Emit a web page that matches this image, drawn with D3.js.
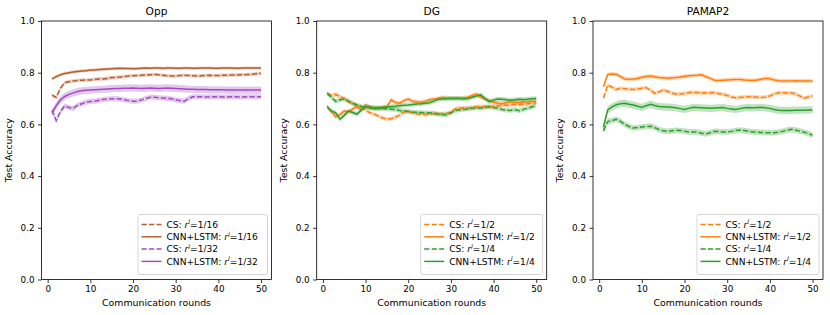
<!DOCTYPE html>
<html><head><meta charset="utf-8">
<script src="https://cdn.jsdelivr.net/npm/d3@7"></script>
<style>
body{margin:0;background:#fff;}
svg{font-family:"DejaVu Sans",sans-serif;}
</style></head>
<body><svg id="chart" width="830" height="315"></svg>
<script>
const rounds = d3.range(1, 51);
const panelTitles = ["Opp", "DG", "PAMAP2"];
const xTicks = [0, 10, 20, 30, 40, 50];
const yTicks = [0.0, 0.2, 0.4, 0.6, 0.8, 1.0];

// Opp
const oppCS16 = [0.713,0.704,0.740,0.762,0.765,0.768,0.770,0.771,0.772,0.772,0.774,0.776,0.776,0.778,0.781,0.782,0.783,0.785,0.787,0.788,0.789,0.790,0.791,0.792,0.793,0.792,0.790,0.788,0.787,0.787,0.789,0.790,0.789,0.788,0.787,0.788,0.789,0.790,0.789,0.789,0.790,0.790,0.791,0.791,0.792,0.792,0.793,0.794,0.796,0.798];
const oppNN16 = [0.776,0.785,0.792,0.797,0.800,0.803,0.805,0.807,0.808,0.810,0.810,0.812,0.813,0.814,0.815,0.816,0.817,0.816,0.816,0.815,0.816,0.817,0.818,0.817,0.818,0.818,0.817,0.818,0.818,0.817,0.817,0.818,0.818,0.817,0.817,0.818,0.818,0.818,0.817,0.817,0.818,0.818,0.818,0.817,0.817,0.818,0.818,0.818,0.818,0.818];
const oppCS32 = [0.655,0.615,0.650,0.672,0.665,0.662,0.674,0.680,0.686,0.689,0.690,0.693,0.696,0.698,0.699,0.700,0.698,0.695,0.692,0.690,0.690,0.695,0.700,0.705,0.705,0.703,0.702,0.701,0.699,0.695,0.692,0.690,0.700,0.707,0.707,0.707,0.706,0.706,0.707,0.707,0.706,0.706,0.707,0.707,0.706,0.706,0.707,0.707,0.707,0.707];
const oppNN32 = [0.645,0.672,0.695,0.708,0.716,0.722,0.727,0.730,0.732,0.733,0.734,0.735,0.736,0.737,0.738,0.739,0.739,0.740,0.740,0.741,0.740,0.739,0.740,0.741,0.740,0.739,0.740,0.741,0.740,0.739,0.738,0.737,0.736,0.736,0.735,0.735,0.735,0.734,0.734,0.734,0.734,0.733,0.733,0.733,0.733,0.733,0.733,0.733,0.733,0.733];
// DG
const dgCS2 = [0.720,0.712,0.716,0.708,0.700,0.688,0.680,0.672,0.668,0.656,0.645,0.640,0.632,0.625,0.620,0.622,0.628,0.636,0.648,0.650,0.645,0.641,0.640,0.638,0.640,0.642,0.640,0.641,0.643,0.645,0.660,0.663,0.664,0.663,0.665,0.668,0.668,0.669,0.667,0.670,0.672,0.675,0.674,0.676,0.678,0.676,0.678,0.680,0.682,0.683];
const dgNN2 = [0.668,0.648,0.630,0.638,0.652,0.648,0.660,0.669,0.656,0.675,0.668,0.663,0.662,0.665,0.669,0.695,0.685,0.682,0.692,0.698,0.690,0.688,0.686,0.690,0.695,0.698,0.700,0.705,0.703,0.702,0.700,0.701,0.702,0.705,0.712,0.717,0.705,0.698,0.692,0.686,0.682,0.680,0.684,0.688,0.686,0.685,0.687,0.688,0.689,0.690];
const dgCS4 = [0.720,0.705,0.689,0.695,0.698,0.690,0.682,0.675,0.669,0.668,0.666,0.664,0.663,0.662,0.660,0.659,0.657,0.654,0.652,0.650,0.648,0.647,0.646,0.645,0.645,0.643,0.640,0.638,0.637,0.645,0.654,0.656,0.658,0.660,0.662,0.664,0.663,0.666,0.669,0.665,0.662,0.658,0.655,0.654,0.657,0.653,0.658,0.663,0.668,0.673];
const dgNN4 = [0.668,0.652,0.645,0.620,0.635,0.652,0.646,0.640,0.655,0.669,0.664,0.662,0.663,0.665,0.667,0.669,0.670,0.672,0.674,0.675,0.677,0.679,0.680,0.682,0.684,0.690,0.697,0.698,0.699,0.700,0.701,0.700,0.699,0.700,0.705,0.710,0.714,0.700,0.688,0.694,0.698,0.697,0.695,0.693,0.695,0.697,0.696,0.697,0.699,0.700];
// PAMAP2
const paCS2 = [0.701,0.752,0.744,0.735,0.740,0.738,0.736,0.735,0.737,0.740,0.742,0.733,0.720,0.726,0.733,0.728,0.722,0.717,0.718,0.720,0.723,0.724,0.723,0.722,0.722,0.722,0.723,0.719,0.717,0.712,0.706,0.703,0.704,0.706,0.707,0.707,0.705,0.704,0.706,0.710,0.718,0.722,0.722,0.722,0.722,0.718,0.710,0.701,0.706,0.710];
const paNN2 = [0.746,0.793,0.795,0.794,0.785,0.776,0.775,0.776,0.778,0.782,0.785,0.787,0.784,0.781,0.780,0.779,0.780,0.781,0.783,0.786,0.788,0.789,0.790,0.792,0.785,0.778,0.771,0.770,0.771,0.772,0.773,0.774,0.774,0.772,0.771,0.770,0.772,0.775,0.778,0.777,0.772,0.769,0.768,0.768,0.768,0.769,0.768,0.768,0.768,0.768];
const paCS4 = [0.575,0.611,0.615,0.620,0.612,0.600,0.592,0.586,0.588,0.590,0.592,0.593,0.588,0.580,0.575,0.573,0.575,0.577,0.576,0.574,0.571,0.571,0.570,0.566,0.563,0.568,0.573,0.572,0.571,0.571,0.573,0.576,0.578,0.576,0.573,0.571,0.570,0.569,0.568,0.568,0.568,0.570,0.573,0.578,0.581,0.578,0.574,0.570,0.565,0.558];
const paNN4 = [0.590,0.656,0.668,0.676,0.680,0.682,0.678,0.675,0.670,0.666,0.672,0.678,0.673,0.669,0.668,0.667,0.666,0.664,0.661,0.658,0.662,0.666,0.665,0.664,0.663,0.662,0.663,0.664,0.665,0.662,0.660,0.658,0.661,0.664,0.665,0.664,0.665,0.666,0.664,0.662,0.658,0.655,0.654,0.654,0.654,0.655,0.655,0.655,0.656,0.656];

// std (band half-width) per series, same order as series lists
const oppStd = [0.007, 0.006, 0.010, 0.014];
const dgStd = [0.008, 0.008, 0.009, 0.009];
const paStd = [0.008, 0.008, 0.011, 0.014];

const oppLabels = [["CS: ","=1/16"],["CNN+LSTM: ","=1/16"],["CS: ","=1/32"],["CNN+LSTM: ","=1/32"]];
const otherLabels = [["CS: ","=1/2"],["CNN+LSTM: ","=1/2"],["CS: ","=1/4"],["CNN+LSTM: ","=1/4"]];

const brown = "#bb5c2c", purple = "#a24cc0", orange = "#ff7f0e", green = "#2ca02c";

const panels = [
  {title: panelTitles[0], series: [oppCS16, oppNN16, oppCS32, oppNN32], std: oppStd, colors: [brown, brown, purple, purple], labels: oppLabels, left: 41.5, legendW: 129.5},
  {title: panelTitles[1], series: [dgCS2, dgNN2, dgCS4, dgNN4], std: dgStd, colors: [orange, orange, green, green], labels: otherLabels, left: 316.7, legendW: 122},
  {title: panelTitles[2], series: [paCS2, paNN2, paCS4, paNN4], std: paStd, colors: [orange, orange, green, green], labels: otherLabels, left: 593, legendW: 122}
];
const dashed = [true, false, true, false];

const svg = d3.select("#chart");
const W = 230, plotTop = 21, plotBottom = 279.5;
const tickFs = 8.8, labelFs = 9.4, legFs = 9.1, titleFs = 10.6;

panels.forEach(p => {
  const x = d3.scaleLinear().domain([-1.45, 52.45]).range([p.left, p.left + W]);
  const y = d3.scaleLinear().domain([0, 1]).range([plotBottom, plotTop]);
  const g = svg.append("g");

  // bands
  p.series.forEach((s, i) => {
    const area = d3.area().x((d, j) => x(rounds[j])).y0(d => y(d - p.std[i])).y1(d => y(d + p.std[i]));
    g.append("path").attr("d", area(s)).attr("fill", p.colors[i]).attr("fill-opacity", 0.3).attr("stroke", "none");
  });
  // lines
  p.series.forEach((s, i) => {
    const line = d3.line().x((d, j) => x(rounds[j])).y(d => y(d));
    g.append("path").attr("d", line(s)).attr("fill", "none").attr("stroke", p.colors[i])
      .attr("stroke-width", 1.5).attr("stroke-dasharray", dashed[i] ? "5.2,2.3" : null);
  });

  // axes
  const xa = g.append("g").attr("transform", `translate(0,${plotBottom})`)
    .call(d3.axisBottom(x).tickValues(xTicks).tickSize(3.5).tickPadding(3).tickFormat(d3.format("d")));
  const ya = g.append("g").attr("transform", `translate(${p.left},0)`)
    .call(d3.axisLeft(y).tickValues(yTicks).tickSize(3.5).tickPadding(3.5).tickFormat(d3.format(".1f")));
  [xa, ya].forEach(a => {
    a.select(".domain").remove();
    a.selectAll("line").attr("stroke", "#000").attr("stroke-width", 0.8);
    a.selectAll("text").attr("font-size", tickFs).attr("fill", "#000").attr("font-family", "DejaVu Sans");
  });
  g.append("rect").attr("x", p.left).attr("y", plotTop).attr("width", W).attr("height", plotBottom - plotTop)
    .attr("fill", "none").attr("stroke", "#000").attr("stroke-width", 0.8);

  g.append("text").attr("x", p.left + W / 2).attr("y", 15).attr("text-anchor", "middle")
    .attr("font-size", titleFs).text(p.title);
  g.append("text").attr("x", p.left + W / 2).attr("y", 305.5).attr("text-anchor", "middle")
    .attr("font-size", labelFs).text("Communication rounds");
  g.append("text").attr("transform", `translate(${p.left - 30},${(plotTop + plotBottom) / 2}) rotate(-90)`)
    .attr("text-anchor", "middle").attr("font-size", labelFs).text("Test Accuracy");

  // legend
  const lw = p.legendW, lh = 60;
  const lx = p.left + W - 4 - lw, ly = plotBottom - 5 - lh;
  const lg = g.append("g");
  lg.append("rect").attr("x", lx).attr("y", ly).attr("width", lw).attr("height", lh).attr("rx", 2)
    .attr("fill", "#fff").attr("fill-opacity", 0.85).attr("stroke", "#ccc").attr("stroke-width", 0.8);
  p.labels.forEach((lab, i) => {
    const cy = ly + 10 + i * 12.3;
    lg.append("line").attr("x1", lx + 3.5).attr("x2", lx + 23.5).attr("y1", cy).attr("y2", cy)
      .attr("stroke", p.colors[i]).attr("stroke-width", 1.5).attr("stroke-dasharray", dashed[i] ? "5.2,2.3" : null);
    const t = lg.append("text").attr("x", lx + 28.5).attr("y", cy + 3.3).attr("font-size", legFs);
    t.append("tspan").text(lab[0]);
    t.append("tspan").attr("font-style", "italic").text("r");
    t.append("tspan").attr("font-style", "italic").attr("font-size", legFs * 0.7).attr("dy", -3.6).text("l");
    t.append("tspan").attr("dy", 3.6).text(lab[1]);
  });
});
</script></body></html>
